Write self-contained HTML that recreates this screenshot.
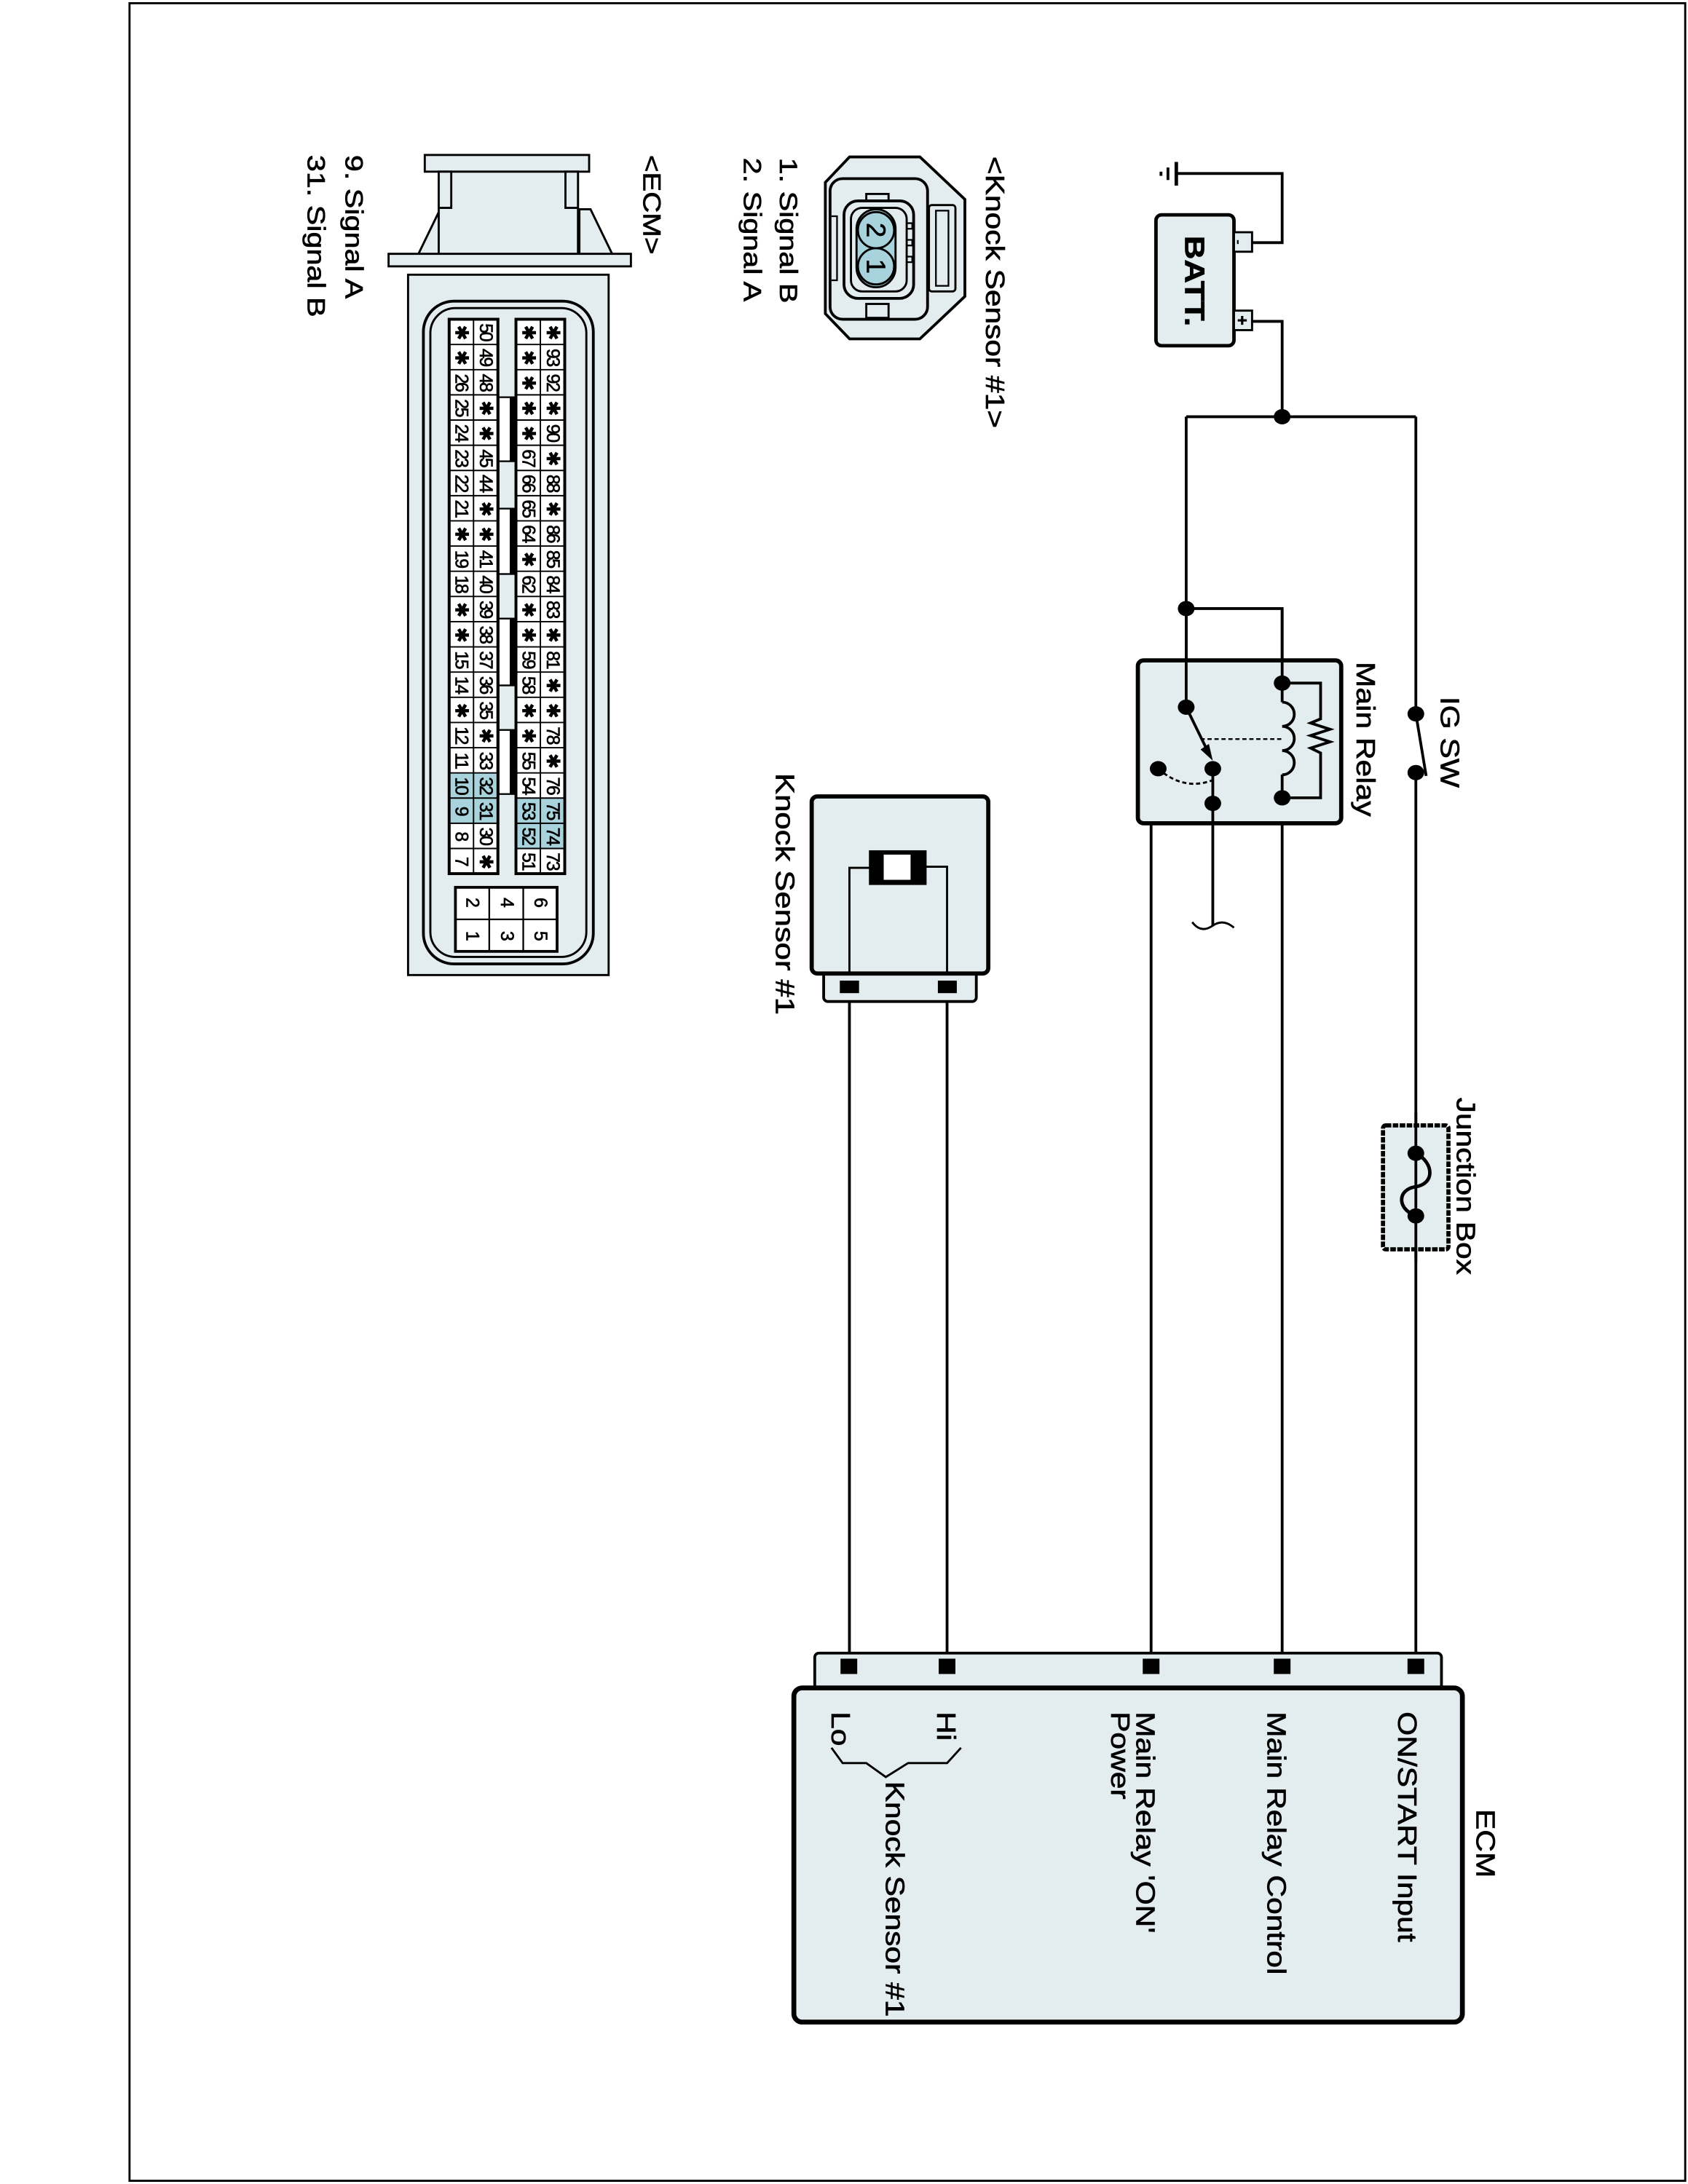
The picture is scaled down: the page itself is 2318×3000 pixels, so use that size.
<!DOCTYPE html>
<html><head><meta charset="utf-8"><style>
html,body{margin:0;padding:0;background:#fff}
svg{display:block}
text{font-family:"Liberation Sans",Arial,sans-serif;fill:#000;stroke:#000;stroke-width:0.35}
</style></head><body>
<svg width="2318" height="3000" viewBox="0 0 1212 1568" xmlns="http://www.w3.org/2000/svg">
<rect x="0" y="0" width="1212" height="1568" fill="#fff"/>
<rect x="93" y="2" width="1117" height="1564" fill="none" stroke="#000" stroke-width="1.5"/>

<g fill="none" stroke="#000" stroke-width="2">
<line x1="844.6" y1="116" x2="844.6" y2="133" stroke-width="2.5"/>
<line x1="838.6" y1="120" x2="838.6" y2="129" stroke-width="2"/>
<line x1="833.6" y1="123" x2="833.6" y2="126" stroke-width="2"/>
<polyline points="844.6,124.3 920.6,124.3 920.6,174 899,174"/>
<polyline points="899,230.5 920.6,230.5 920.6,299"/>
<line x1="851.7" y1="299" x2="1016.6" y2="299"/>
<line x1="851.7" y1="299" x2="851.7" y2="507.6"/>
<polyline points="851.7,436.8 920.6,436.8 920.6,490.3"/>
<line x1="1016.6" y1="299" x2="1016.6" y2="512.4"/>
<line x1="1016.6" y1="554.6" x2="1016.6" y2="1191"/>
<line x1="920.6" y1="572.7" x2="920.6" y2="1191"/>
<polyline points="870.8,576.7 826.5,576.7 826.5,1191"/>
<line x1="609.9" y1="713" x2="609.9" y2="1191"/>
<line x1="680" y1="713" x2="680" y2="1191"/>
</g>

<rect x="830" y="154" width="56" height="94" rx="4" fill="#e3ecee" stroke="#000" stroke-width="2.5"/>
<rect x="886" y="166.5" width="13" height="14" fill="#e3ecee" stroke="#000" stroke-width="1.5"/>
<rect x="886" y="222.8" width="13" height="14" fill="#e3ecee" stroke="#000" stroke-width="1.5"/>
<text transform="translate(889,173.5) rotate(90)" font-size="10" text-anchor="middle" dominant-baseline="central">-</text>
<text transform="translate(892,229.8) rotate(90)" font-size="12" font-weight="bold" text-anchor="middle" dominant-baseline="central">+</text>
<text transform="translate(851,169) rotate(90) scale(1.18,1)" font-size="20" font-weight="bold">BATT.</text>

<rect x="817" y="474" width="146" height="117" rx="4" fill="#e3ecee" stroke="#000" stroke-width="3"/>
<g fill="none" stroke="#000" stroke-width="2">
<line x1="851.7" y1="436.8" x2="851.7" y2="507.6"/>
<line x1="920.6" y1="436.8" x2="920.6" y2="504"/>
<path d="M920.6,504 a8.7,8.7 0 0 1 0,17.4 a8.7,8.7 0 0 1 0,17.4 a8.7,8.7 0 0 1 0,17.4"/>
<line x1="920.6" y1="556" x2="920.6" y2="572.7"/>
<polyline points="920.6,490.3 948.2,490.3 948.2,516 941,519 955,523.5 941,528 955,532.5 941,537 948.2,540.5 948.2,572.7 920.6,572.7"/>
<line x1="851.7" y1="507.6" x2="868" y2="541"/>
<path d="M831.6,551.8 Q850,568 870.8,560" stroke-dasharray="3,2" stroke-width="1.5"/>
<line x1="862" y1="530.5" x2="920" y2="530.5" stroke-dasharray="3,2" stroke-width="1.2"/>
<line x1="870.8" y1="551.8" x2="870.8" y2="665"/>
<path d="M856,662 Q862,670 870,665 Q878,659 886,666" stroke-width="1.5"/>
</g>
<polygon points="870.8,546 862,538 868,534" fill="#000"/>
<g fill="#000">
<ellipse cx="920.6" cy="299" rx="6" ry="5.5"/>
<ellipse cx="851.7" cy="436.8" rx="6" ry="5.5"/>
<ellipse cx="920.6" cy="490.3" rx="6" ry="5.5"/>
<ellipse cx="851.7" cy="507.6" rx="6" ry="5.5"/>
<ellipse cx="831.6" cy="551.8" rx="6" ry="5.5"/>
<ellipse cx="870.8" cy="551.8" rx="6" ry="5.5"/>
<ellipse cx="870.8" cy="576.7" rx="6" ry="5.5"/>
<ellipse cx="920.6" cy="572.7" rx="6" ry="5.5"/>
<ellipse cx="1016.6" cy="512.4" rx="6" ry="5.5"/>
<ellipse cx="1016.6" cy="554.6" rx="6" ry="5.5"/>
</g>
<line x1="1016.6" y1="512.4" x2="1024" y2="557" stroke="#000" stroke-width="2"/>
<text transform="translate(1034.5,500) rotate(90) scale(1.17,1)" font-size="19">IG SW</text>
<text transform="translate(974,475) rotate(90) scale(1.17,1)" font-size="19">Main Relay</text>

<rect x="993" y="808" width="47" height="89" rx="2" fill="#e3ecee" stroke="#000" stroke-width="3" stroke-dasharray="4,1"/>
<line x1="1016.6" y1="799" x2="1016.6" y2="906" stroke="#000" stroke-width="2"/>
<path d="M1016.6,828 C1030,835 1030,850 1016.6,852 C1003,854 1003,868 1016.6,873" fill="none" stroke="#000" stroke-width="2.5"/>
<ellipse cx="1016.6" cy="828" rx="6" ry="5.5"/>
<ellipse cx="1016.6" cy="873" rx="6" ry="5.5"/>
<text transform="translate(1046,788) rotate(90) scale(1.17,1)" font-size="19">Junction Box</text>

<rect x="591.4" y="697" width="109.6" height="22" rx="3" fill="#e3ecee" stroke="#000" stroke-width="2"/>
<rect x="582.8" y="571.7" width="126.8" height="127.2" rx="4" fill="#e3ecee" stroke="#000" stroke-width="3"/>
<polyline points="609.9,699 609.9,623 624,623" fill="none" stroke="#000" stroke-width="1.5"/>
<polyline points="665,622.2 680,622.2 680,699" fill="none" stroke="#000" stroke-width="1.5"/>
<rect x="623.9" y="610.4" width="41.4" height="24.9" fill="#000"/>
<rect x="634.5" y="613.5" width="19.3" height="18.1" fill="#fff"/>
<rect x="603" y="704" width="13.8" height="9" fill="#000"/>
<rect x="673.4" y="704" width="13.6" height="9" fill="#000"/>
<text transform="translate(557,555) rotate(90) scale(1.2,1)" font-size="19">Knock Sensor #1</text>

<rect x="585" y="1187" width="450" height="27" rx="3" fill="#e3ecee" stroke="#000" stroke-width="2"/>
<rect x="570" y="1212" width="480" height="240" rx="6" fill="#e3ecee" stroke="#000" stroke-width="3.5"/>
<g fill="#000">
<rect x="603.5" y="1191" width="12" height="11"/>
<rect x="674" y="1191" width="12" height="11"/>
<rect x="820.5" y="1191" width="12" height="11"/>
<rect x="914.6" y="1191" width="12" height="11"/>
<rect x="1010.6" y="1191" width="12" height="11"/>
</g>
<text transform="translate(1060,1299) rotate(90) scale(1.17,1)" font-size="19">ECM</text>
<text transform="translate(1004,1229) rotate(90) scale(1.17,1)" font-size="19">ON/START Input</text>
<text transform="translate(910,1229) rotate(90) scale(1.17,1)" font-size="19">Main Relay Control</text>
<text transform="translate(816,1229) rotate(90) scale(1.17,1)" font-size="19">Main Relay 'ON'</text>
<text transform="translate(798,1229) rotate(90) scale(1.17,1)" font-size="19">Power</text>
<text transform="translate(673,1229) rotate(90) scale(1.17,1)" font-size="19">Hi</text>
<text transform="translate(597,1229) rotate(90) scale(1.17,1)" font-size="19">Lo</text>
<polyline points="690,1255 680,1266 652,1266 636,1276 622,1266 605,1266 597,1255" fill="none" stroke="#000" stroke-width="1.5"/>
<text transform="translate(636,1279) rotate(90) scale(1.17,1)" font-size="19">Knock Sensor #1</text>

<path d="M610,112.4 L660.5,112.4 L692.8,142.9 L692.8,212.6 L660.5,243.1 L610,243.1 L592.6,225 L592.6,130.7 Z" fill="#e3ecee" stroke="#000" stroke-width="2"/>
<rect x="596" y="128" width="70" height="101" rx="9" fill="#e3ecee" stroke="#000" stroke-width="2"/>
<rect x="622" y="139" width="16" height="10" fill="#e3ecee" stroke="#000" stroke-width="1.5"/>
<rect x="622" y="218" width="16" height="10" fill="#e3ecee" stroke="#000" stroke-width="1.5"/>
<rect x="667" y="147" width="19" height="62" rx="2" fill="#e3ecee" stroke="#000" stroke-width="1.5"/>
<rect x="672" y="151" width="9" height="54" fill="#e3ecee" stroke="#000" stroke-width="1.2"/>
<path d="M597,155 h4 v46 h-4" fill="none" stroke="#000" stroke-width="1.2"/>
<rect x="606" y="144" width="50" height="70" rx="10" fill="#e3ecee" stroke="#000" stroke-width="2"/>
<rect x="611" y="149" width="40" height="60" rx="8" fill="#e3ecee" stroke="#000" stroke-width="1.5"/>
<path d="M651,160 h4 v4 h-4 M651,172 h4 v4 h-4 M651,184 h4 v4 h-4" fill="none" stroke="#000" stroke-width="1.2"/>
<rect x="615" y="150" width="28" height="56" rx="14" fill="#a9d3dc" stroke="#000" stroke-width="1.5"/>
<circle cx="629" cy="165" r="13" fill="#a9d3dc" stroke="#000" stroke-width="1.5"/>
<circle cx="629" cy="191" r="13" fill="#a9d3dc" stroke="#000" stroke-width="1.5"/>
<text transform="translate(629,165) rotate(90)" font-size="19" text-anchor="middle" dominant-baseline="central">2</text>
<text transform="translate(629,191) rotate(90)" font-size="19" text-anchor="middle" dominant-baseline="central">1</text>
<text transform="translate(708,112) rotate(90) scale(1.17,1)" font-size="19">&lt;Knock Sensor #1&gt;</text>
<text transform="translate(560,113) rotate(90) scale(1.2,1)" font-size="18">1. Signal B</text>
<text transform="translate(534,113) rotate(90) scale(1.2,1)" font-size="18">2. Signal A</text>

<text transform="translate(462,111) rotate(90) scale(1.17,1)" font-size="18">&lt;ECM&gt;</text>
<text transform="translate(248,111) rotate(90) scale(1.2,1)" font-size="18">9. Signal A</text>
<text transform="translate(221,111) rotate(90) scale(1.2,1)" font-size="18">31. Signal B</text>
<g stroke="#000" stroke-width="1.5" fill="#e3ecee">
<polygon points="300,183 316,150 324,150 324,183"/>
<polygon points="440,183 424,150 416,150 416,183"/>
<rect x="305" y="111" width="118" height="12"/>
<rect x="315" y="123" width="100" height="67"/>
<rect x="315" y="123" width="9" height="26"/>
<rect x="406" y="123" width="9" height="26"/>
<rect x="279" y="182" width="174" height="9"/>
<rect x="293" y="197" width="144" height="503"/>
<rect x="304" y="216" width="122" height="476" rx="22" stroke-width="2"/>
<rect x="309" y="221" width="112" height="466" rx="18"/>
</g>
<g stroke="#000" stroke-width="1.2" fill="#fff">
<rect x="358" y="285" width="12" height="46"/><rect x="358" y="331" width="13" height="34" fill="#e3ecee"/>
<rect x="358" y="365" width="12" height="47"/><rect x="358" y="412" width="13" height="32" fill="#e3ecee"/>
<rect x="358" y="444" width="12" height="48"/><rect x="358" y="492" width="13" height="32" fill="#e3ecee"/>
<rect x="358" y="524" width="12" height="46"/>
</g>
<g fill="#000">
<rect x="366" y="285" width="4" height="46"/><rect x="366" y="365" width="4" height="47"/>
<rect x="366" y="444" width="4" height="48"/><rect x="366" y="524" width="4" height="46"/>
</g>
<g transform="translate(405.5,229) rotate(90)">
<rect x="0" y="0" width="398.2" height="35" fill="#fff" stroke="#000" stroke-width="2"/>
<rect x="0" y="48" width="398.2" height="35" fill="#fff" stroke="#000" stroke-width="2"/>
<g fill="#a9d3dc">
<rect x="343.9" y="0" width="36.2" height="35"/>
<rect x="325.8" y="48" width="36.2" height="35"/>
</g>
<rect x="0" y="0" width="398.2" height="35" fill="none" stroke="#000" stroke-width="2"/>
<rect x="0" y="48" width="398.2" height="35" fill="none" stroke="#000" stroke-width="2"/>
<g stroke="#000" stroke-width="1">
<line x1="0" y1="17.5" x2="398.2" y2="17.5"/><line x1="0" y1="65.5" x2="398.2" y2="65.5"/>
<path d="M18.1,0v35M36.2,0v35M54.3,0v35M72.4,0v35M90.5,0v35M108.6,0v35M126.7,0v35M144.8,0v35M162.9,0v35M181,0v35M199.1,0v35M217.2,0v35M235.3,0v35M253.4,0v35M271.5,0v35M289.6,0v35M307.7,0v35M325.8,0v35M343.9,0v35M362,0v35M380.1,0v35"/>
<path d="M18.1,48v35M36.2,48v35M54.3,48v35M72.4,48v35M90.5,48v35M108.6,48v35M126.7,48v35M144.8,48v35M162.9,48v35M181,48v35M199.1,48v35M217.2,48v35M235.3,48v35M253.4,48v35M271.5,48v35M289.6,48v35M307.7,48v35M325.8,48v35M343.9,48v35M362,48v35M380.1,48v35"/>
</g>
<g font-size="13" text-anchor="middle" dominant-baseline="central" letter-spacing="-1.2">
<text x="9" y="8.7">✱</text><text x="27.1" y="8.7">93</text><text x="45.2" y="8.7">92</text><text x="63.3" y="8.7">✱</text><text x="81.4" y="8.7">90</text><text x="99.5" y="8.7">✱</text><text x="117.6" y="8.7">88</text><text x="135.7" y="8.7">✱</text><text x="153.8" y="8.7">86</text><text x="171.9" y="8.7">85</text><text x="190" y="8.7">84</text><text x="208.1" y="8.7">83</text><text x="226.2" y="8.7">✱</text><text x="244.3" y="8.7">81</text><text x="262.4" y="8.7">✱</text><text x="280.5" y="8.7">✱</text><text x="298.6" y="8.7">78</text><text x="316.7" y="8.7">✱</text><text x="334.8" y="8.7">76</text><text x="352.9" y="8.7">75</text><text x="371" y="8.7">74</text><text x="389.1" y="8.7">73</text>
<text x="9" y="26.2">✱</text><text x="27.1" y="26.2">✱</text><text x="45.2" y="26.2">✱</text><text x="63.3" y="26.2">✱</text><text x="81.4" y="26.2">✱</text><text x="99.5" y="26.2">67</text><text x="117.6" y="26.2">66</text><text x="135.7" y="26.2">65</text><text x="153.8" y="26.2">64</text><text x="171.9" y="26.2">✱</text><text x="190" y="26.2">62</text><text x="208.1" y="26.2">✱</text><text x="226.2" y="26.2">✱</text><text x="244.3" y="26.2">59</text><text x="262.4" y="26.2">58</text><text x="280.5" y="26.2">✱</text><text x="298.6" y="26.2">✱</text><text x="316.7" y="26.2">55</text><text x="334.8" y="26.2">54</text><text x="352.9" y="26.2">53</text><text x="371" y="26.2">52</text><text x="389.1" y="26.2">51</text>
<text x="9" y="56.7">50</text><text x="27.1" y="56.7">49</text><text x="45.2" y="56.7">48</text><text x="63.3" y="56.7">✱</text><text x="81.4" y="56.7">✱</text><text x="99.5" y="56.7">45</text><text x="117.6" y="56.7">44</text><text x="135.7" y="56.7">✱</text><text x="153.8" y="56.7">✱</text><text x="171.9" y="56.7">41</text><text x="190" y="56.7">40</text><text x="208.1" y="56.7">39</text><text x="226.2" y="56.7">38</text><text x="244.3" y="56.7">37</text><text x="262.4" y="56.7">36</text><text x="280.5" y="56.7">35</text><text x="298.6" y="56.7">✱</text><text x="316.7" y="56.7">33</text><text x="334.8" y="56.7">32</text><text x="352.9" y="56.7">31</text><text x="371" y="56.7">30</text><text x="389.1" y="56.7">✱</text>
<text x="9" y="74.2">✱</text><text x="27.1" y="74.2">✱</text><text x="45.2" y="74.2">26</text><text x="63.3" y="74.2">25</text><text x="81.4" y="74.2">24</text><text x="99.5" y="74.2">23</text><text x="117.6" y="74.2">22</text><text x="135.7" y="74.2">21</text><text x="153.8" y="74.2">✱</text><text x="171.9" y="74.2">19</text><text x="190" y="74.2">18</text><text x="208.1" y="74.2">✱</text><text x="226.2" y="74.2">✱</text><text x="244.3" y="74.2">15</text><text x="262.4" y="74.2">14</text><text x="280.5" y="74.2">✱</text><text x="298.6" y="74.2">12</text><text x="316.7" y="74.2">11</text><text x="334.8" y="74.2">10</text><text x="352.9" y="74.2">9</text><text x="371" y="74.2">8</text><text x="389.1" y="74.2">7</text>
</g>
</g>
<rect x="327" y="637" width="73" height="46" fill="#fff" stroke="#000" stroke-width="2"/>
<path d="M351.3,637v46M375.7,637v46M327,660h73" stroke="#000" stroke-width="1.2"/>
<g font-size="13" text-anchor="middle" dominant-baseline="central">
<text transform="translate(388,648) rotate(90)">6</text><text transform="translate(388,672) rotate(90)">5</text>
<text transform="translate(364,648) rotate(90)">4</text><text transform="translate(364,672) rotate(90)">3</text>
<text transform="translate(339,648) rotate(90)">2</text><text transform="translate(339,672) rotate(90)">1</text>
</g>
</svg>
</body></html>
